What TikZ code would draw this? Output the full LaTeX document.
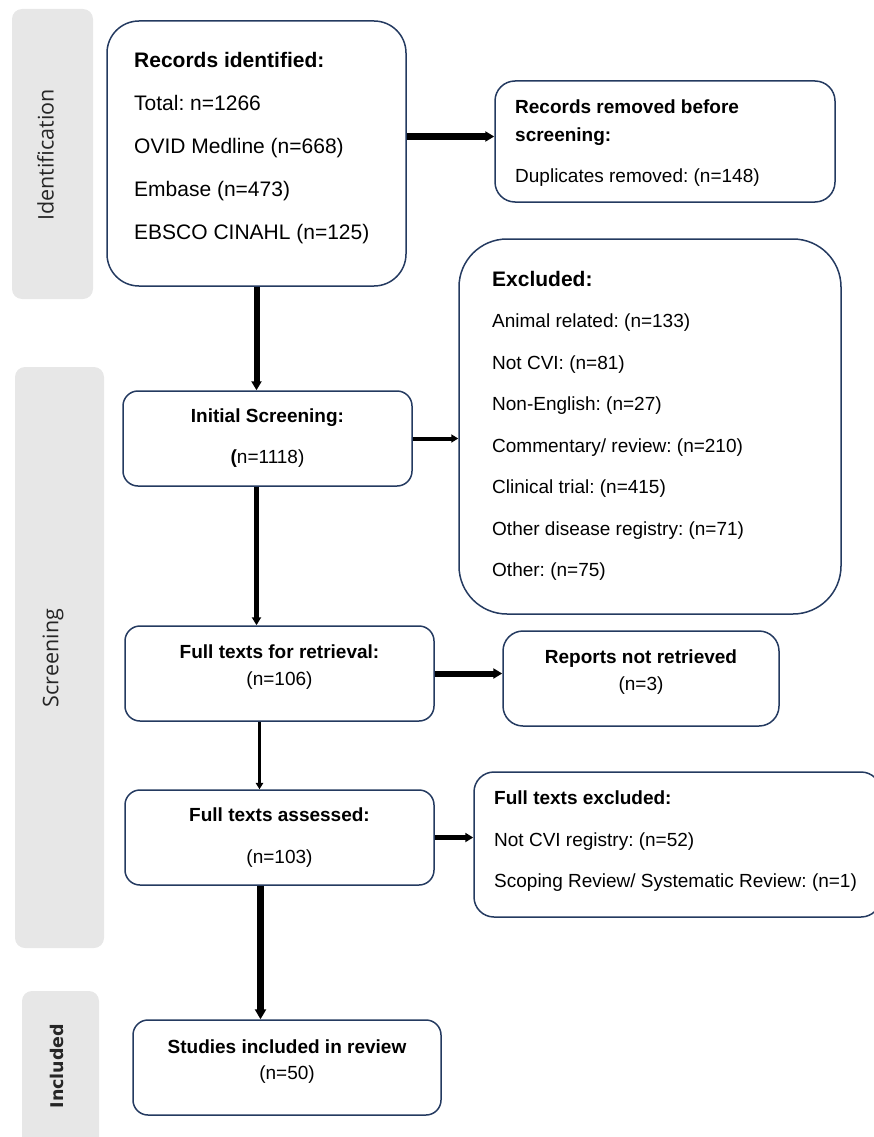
\documentclass[tikz,border=0pt]{standalone}
\usepackage{fontspec}
\setmainfont{Liberation Sans}
\newfontfamily\bandfont{Open Sans}
\newfontfamily\incfont{DejaVu Sans}
\usetikzlibrary{arrows.meta}
\frenchspacing
\definecolor{boxline}{RGB}{36,58,96}
\definecolor{bandgray}{RGB}{231,231,231}
\tikzset{
  box/.style={draw=boxline, line width=1.5pt, fill=white, inner sep=0pt},
  band/.style={fill=bandgray, rounded corners=10pt, inner sep=0pt},
  bandtxt/.style={rotate=90, inner sep=0pt, text=black!85, font=\bandfont\fontsize{21.5}{25}\selectfont},
  txt/.style={inner sep=0pt, font=\fontsize{19}{27}\selectfont},
  arr/.style={-{Triangle[length=3pt 1,width=4pt 1]}},
}
\begin{document}
\begin{tikzpicture}[x=1pt, y=-1pt]
        \useasboundingbox (0,0) rectangle (874,1137);

        % phase bands
        \node[band, minimum width=81pt, minimum height=290pt] (identband) at (52.5,154) {};
        \node[band, minimum width=89pt, minimum height=581pt] (screenband) at (59.5,657.5) {};
        \node[band, minimum width=77pt, minimum height=159pt] (inclband) at (60.5,1070.5) {};
        \node[bandtxt] (identlbl) at (45.5,155) {Identification};
        \node[bandtxt] (screenlbl) at (53,658) {Screening};
        \node[bandtxt, font=\incfont\bfseries\fontsize{17.5}{21}\selectfont] (incllbl) at (57,1066) {Included};

        % boxes
        \node[box, rounded corners=32pt, minimum width=299pt, minimum height=265pt] (recid) at (256.5,153.5) {};
        \node[box, rounded corners=20pt, minimum width=340pt, minimum height=121pt] (removed) at (665,141.5) {};
        \node[box, rounded corners=48pt, minimum width=382pt, minimum height=375pt] (excl) at (650,426.5) {};
        \node[box, rounded corners=15pt, minimum width=289pt, minimum height=95pt] (initial) at (267.5,438.5) {};
        \node[box, rounded corners=15pt, minimum width=309pt, minimum height=95pt] (retrieval) at (279.5,673.5) {};
        \node[box, rounded corners=20pt, minimum width=276pt, minimum height=95pt] (reports) at (641,678.5) {};
        \node[box, rounded corners=15pt, minimum width=309pt, minimum height=95pt] (assessed) at (279.5,837.5) {};
        \node[box, rounded corners=20pt, minimum width=407pt, minimum height=145pt] (ftexcl) at (677.5,844.5) {};
        \node[box, rounded corners=15pt, minimum width=308pt, minimum height=95pt] (included) at (287,1067.5) {};

        % texts
        \node[txt, anchor=west, align=left, font=\fontsize{21}{43}\selectfont] (recidtxt) at (134,148)
            {\textbf{Records identified:}\\Total: n=1266\\OVID Medline (n=668)\\Embase (n=473)\\EBSCO CINAHL (n=125)};
        \node[txt, anchor=west, align=left, font=\fontsize{19}{28}\selectfont] (removedtxt) at (515,143)
            {\textbf{Records removed before}\\\textbf{screening:}\\[13pt]Duplicates removed: (n=148)};
        \node[txt, anchor=west, align=left, font=\fontsize{19}{41.5}\selectfont] (excltxt) at (492,426)
            {{\fontsize{21}{41.5}\selectfont\bfseries Excluded:}\\Animal related: (n=133)\\Not CVI: (n=81)\\Non-English: (n=27)\\Commentary/ review: (n=210)\\Clinical trial: (n=415)\\Other disease registry: (n=71)\\Other: (n=75)};
        \node[txt, align=center] (initialtxt) at (267.5,438.5) {\textbf{Initial Screening:}\\[14pt]{\bfseries(}n=1118)};
        \node[txt, align=center] (retrievaltxt) at (279.5,667.5) {\textbf{Full texts for retrieval:}\\(n=106)};
        \node[txt, align=center] (reportstxt) at (641,672.5) {\textbf{Reports not retrieved}\\(n=3)};
        \node[txt, align=center] (assessedtxt) at (279.5,838) {\textbf{Full texts assessed:}\\[15pt](n=103)};
        \node[txt, anchor=west, align=left, font=\fontsize{19}{41.5}\selectfont] (ftexcltxt) at (494,841.5)
            {\textbf{Full texts excluded:}\\Not CVI registry: (n=52)\\Scoping Review/ Systematic Review: (n=1)};
        \node[txt, align=center, font=\fontsize{19}{26}\selectfont] (includedtxt) at (287,1062) {\textbf{Studies included in review}\\(n=50)};

        % arrows
        \draw[arr, line width=6pt] ([yshift=17pt]recid.east) -- ([yshift=5pt]removed.west);
        \draw[arr, line width=6pt] (recid.south) -- (recid.south |- initial.north);
        \draw[arr, line width=4pt] (initial.east) -- (initial.east -| excl.west);
        \draw[arr, line width=5pt] ([xshift=-11pt]initial.south) -- ([xshift=-11pt]initial.south |- retrieval.north);
        \draw[arr, line width=6pt] (retrieval.east) -- (retrieval.east -| reports.west);
        \draw[arr, line width=3.5pt] ([xshift=-20pt]retrieval.south) -- ([xshift=-20pt]retrieval.south |- assessed.north);
        \draw[arr, line width=5pt] (assessed.east) -- (assessed.east -| ftexcl.west);
        \draw[arr, line width=7pt] ([xshift=-19pt]assessed.south) -- ([xshift=-19pt]assessed.south |- included.north);
\end{tikzpicture}
\end{document}
